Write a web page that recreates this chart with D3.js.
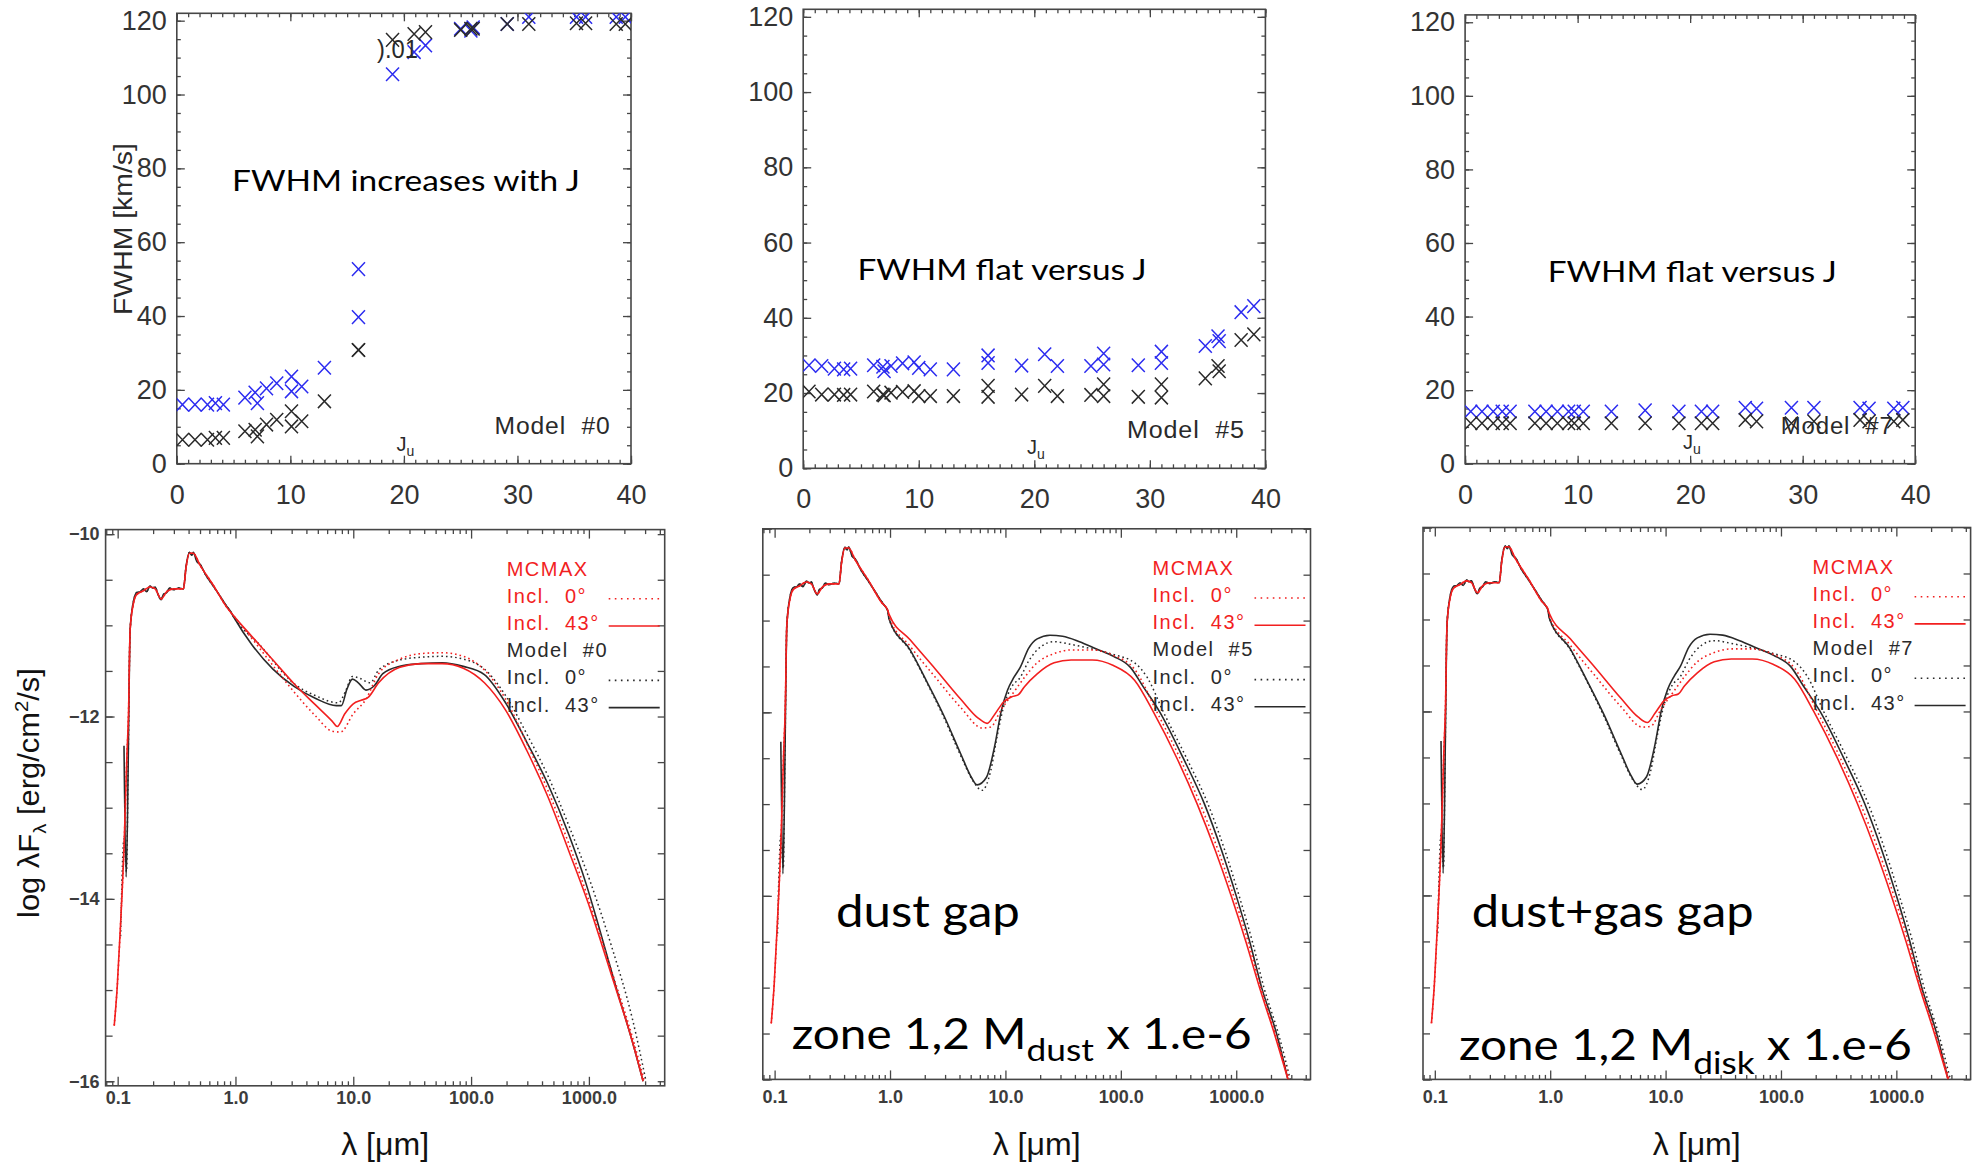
<!DOCTYPE html>
<html>
<head>
<meta charset="utf-8">
<script src="https://cdnjs.cloudflare.com/ajax/libs/d3/7.8.5/d3.min.js"></script>
<style>
  body { margin: 0; background: #fff; }
  svg { display: block; }
  text { white-space: pre; }
</style>
</head>
<body>
<script>
// ---- top row: FWHM (km/s) versus upper level J_u, blue = one set, black = other set ----
const jModel0 = [0.5, 1.6, 2.7, 3.4, 4.1, 6.0, 6.9, 7.1, 7.9, 8.8, 10.1, 10.1, 11.0, 13.0, 16.0, 16.0, 19.0, 20.9, 21.9, 25.0, 25.9, 26.1, 29.1, 31.0, 35.2, 36.0, 38.7, 39.5];
const fwhmBlue0 = [16.0, 16.0, 16.0, 16.4, 16.0, 17.9, 19.3, 16.4, 20.4, 21.8, 23.6, 19.6, 20.9, 26.0, 52.7, 39.7, 105.5, 111.5, 113.3, 117.8, 117.3, 118.2, 119.1, 121.0, 121.0, 121.0, 121.0, 121.0];
const fwhmBlack0 = [6.5, 6.5, 6.5, 7.0, 7.0, 8.8, 9.2, 7.4, 10.6, 11.9, 14.2, 10.1, 11.5, 16.9, 30.8, 30.8, 114.8, 116.4, 116.9, 117.5, 117.8, 117.8, 119.1, 119.1, 119.3, 119.3, 119.1, 119.1];

const jModel5 = [0.5, 1.6, 2.7, 3.5, 4.1, 6.1, 6.9, 7.0, 7.6, 8.6, 9.6, 10.0, 11.0, 13.0, 16.0, 16.0, 18.9, 20.9, 22.0, 24.9, 26.0, 26.0, 29.0, 31.0, 31.0, 34.8, 35.9, 36.0, 37.9, 39.0];
const fwhmBlue5 = [27.4, 27.2, 26.5, 26.3, 26.5, 27.4, 27.0, 25.8, 27.2, 27.9, 28.2, 26.7, 26.3, 26.3, 30.0, 28.0, 27.3, 30.3, 27.2, 27.2, 30.5, 27.6, 27.4, 31.0, 28.0, 32.5, 35.1, 33.8, 41.5, 43.1];
const fwhmBlack5 = [20.4, 19.6, 19.6, 19.5, 19.6, 20.4, 19.6, 19.4, 20.1, 20.3, 20.5, 19.2, 19.2, 19.2, 21.9, 19.0, 19.6, 21.9, 19.2, 19.5, 22.3, 19.2, 19.0, 22.3, 18.8, 23.9, 27.2, 25.8, 34.1, 35.6];

const jModel7 = [0.5, 1.5, 2.5, 3.3, 4.0, 6.2, 7.2, 8.2, 9.2, 9.7, 10.5, 13.0, 16.0, 19.0, 21.0, 22.0, 24.9, 25.9, 29.0, 31.0, 35.1, 35.9, 38.1, 38.9];
const fwhmBlue7 = [14.2, 14.2, 14.2, 14.2, 14.2, 14.2, 14.2, 14.2, 14.2, 14.2, 14.2, 14.2, 14.5, 14.2, 14.2, 14.2, 15.2, 15.0, 15.2, 15.2, 15.2, 15.0, 15.0, 15.2];
const fwhmBlack7 = [11.0, 11.0, 11.0, 11.0, 11.0, 11.0, 11.0, 11.0, 11.0, 11.0, 11.0, 11.0, 11.0, 11.0, 11.0, 11.0, 11.9, 11.5, 11.0, 11.5, 11.9, 11.5, 11.5, 11.9];

// ---- bottom row: SEDs, [lambda (micron), log lambda F_lambda (erg/cm2/s)] ----
const uvRed = [[0.0935, -15.39], [0.0991, -14.97], [0.1059, -14.27], [0.1132, -13.44], [0.1199, -12.42], [0.1236, -11.97], [0.1276, -11.05]];
const uvBlack = [[0.1132, -12.32], [0.1180, -13.76], [0.1219, -12.88], [0.1250, -11.72], [0.1276, -11.05]];
const uvBlackDot = [[0.1059, -14.41], [0.1132, -13.34], [0.1189, -13.70], [0.1230, -12.42], [0.1276, -11.05]];
const photosphere = [[0.1361, -10.76], [0.1455, -10.66], [0.1656, -10.62], [0.1884, -10.58], [0.2080, -10.60], [0.2339, -10.71], [0.2612, -10.63], [0.2972, -10.60], [0.3614, -10.60], [0.3811, -10.36], [0.4064, -10.21], [0.4385, -10.21], [0.5000, -10.34], [0.6486, -10.56], [0.8414, -10.80], [0.9572, -10.89]];
// the black model spectrum is noisier over the photosphere
const photosphereNoisy = [[0.1361, -10.74], [0.1455, -10.64], [0.1560, -10.63], [0.1656, -10.60], [0.1760, -10.63], [0.1884, -10.57], [0.1980, -10.59], [0.2080, -10.58], [0.2200, -10.66], [0.2339, -10.72], [0.2450, -10.66], [0.2612, -10.64], [0.2750, -10.59], [0.2972, -10.61], [0.3300, -10.59], [0.3614, -10.60], [0.3811, -10.35], [0.4064, -10.20], [0.4250, -10.23], [0.4385, -10.20], [0.4700, -10.30], [0.5000, -10.33], [0.5600, -10.45], [0.6486, -10.57], [0.7400, -10.68], [0.8414, -10.79], [0.9000, -10.84], [0.9572, -10.90]];

const sed0BlackSolid = [[1.374, -11.21], [2.080, -11.48], [3.141, -11.67], [4.753, -11.80], [7.178, -11.88], [7.925, -11.88], [8.831, -11.70], [9.840, -11.59], [11.04, -11.63], [12.82, -11.71], [15.14, -11.66], [17.82, -11.53], [24.83, -11.45], [37.58, -11.42], [56.75, -11.41], [85.90, -11.45], [129.7, -11.54], [196.3, -11.85], [296.5, -12.28], [448.7, -12.74], [677.6, -13.30], [944, -13.83], [1211, -14.30], [1683, -14.95], [2344, -15.57], [2884, -16.00]];
const sed0BlackDot = [[1.622, -11.22], [3.141, -11.64], [4.753, -11.77], [7.482, -11.85], [8.610, -11.72], [9.840, -11.56], [11.32, -11.58], [13.93, -11.63], [16.41, -11.49], [24.83, -11.38], [37.58, -11.35], [56.75, -11.34], [85.90, -11.37], [129.7, -11.48], [196.3, -11.77], [296.5, -12.19], [448.7, -12.65], [677.6, -13.20], [1026, -13.81], [1549, -14.51], [2344, -15.32], [3055, -16.00]];
const sed0RedSolid = [[1.374, -11.12], [2.080, -11.38], [3.141, -11.64], [4.753, -11.87], [6.607, -12.05], [7.311, -12.11], [8.472, -11.97], [10.0, -11.86], [11.80, -11.82], [13.37, -11.79], [16.41, -11.63], [24.83, -11.46], [37.58, -11.42], [56.75, -11.42], [85.90, -11.47], [129.7, -11.63], [196.3, -11.93], [296.5, -12.37], [448.7, -12.88], [677.6, -13.48], [1026, -14.11], [1549, -14.83], [2344, -15.57], [2884, -16.00]];
const sed0RedDot = [[1.622, -11.26], [2.259, -11.50], [3.141, -11.73], [4.753, -11.99], [6.607, -12.16], [7.798, -12.17], [10.0, -11.97], [12.82, -11.81], [16.41, -11.53], [24.83, -11.37], [37.58, -11.31], [56.75, -11.30], [85.90, -11.34], [129.7, -11.49], [196.3, -11.81], [296.5, -12.29], [448.7, -12.81], [677.6, -13.40], [1026, -14.06], [1549, -14.78], [2344, -15.52], [2958, -16.00]];

// gap models (#5 dust gap, #7 dust+gas gap look the same in the picture)
const sedGapBlackSolid = [[0.979, -10.98], [1.493, -11.32], [2.094, -11.67], [2.938, -12.04], [4.121, -12.46], [5.082, -12.71], [5.675, -12.79], [6.839, -12.71], [8.091, -12.36], [9.183, -11.99], [10.42, -11.76], [11.83, -11.62], [13.43, -11.51], [15.92, -11.30], [18.84, -11.20], [24.27, -11.16], [31.26, -11.17], [43.85, -11.23], [61.52, -11.31], [86.30, -11.39], [121.1, -11.51], [156.0, -11.72], [218.3, -12.00], [347.5, -12.50], [530.9, -13.00], [744.7, -13.50], [1000, -14.00], [1309, -14.50], [1660, -15.00], [2234, -15.50], [2805, -16.00]];
const sedGapBlackDot = [[0.979, -10.98], [1.493, -11.33], [2.094, -11.68], [2.938, -12.06], [4.121, -12.48], [5.248, -12.75], [6.281, -12.85], [7.447, -12.64], [8.453, -12.27], [9.594, -11.95], [11.35, -11.72], [13.43, -11.62], [15.92, -11.44], [20.51, -11.28], [26.42, -11.23], [37.07, -11.26], [56.49, -11.31], [86.30, -11.37], [131.5, -11.46], [169.4, -11.62], [234.4, -12.00], [371.5, -12.50], [568.9, -13.00], [794.3, -13.50], [1059, -14.00], [1380, -14.50], [1738, -15.00], [2317, -15.50], [2938, -16.00]];
const sedGapRedSolid = [[0.979, -10.93], [1.493, -11.21], [2.477, -11.53], [4.121, -11.86], [5.768, -12.06], [6.950, -12.12], [8.091, -12.02], [9.594, -11.89], [11.35, -11.83], [12.88, -11.81], [14.62, -11.72], [18.84, -11.58], [26.42, -11.46], [37.07, -11.43], [56.49, -11.43], [86.30, -11.49], [131.5, -11.65], [192.3, -12.00], [306.2, -12.50], [459.2, -13.00], [656.1, -13.50], [903.6, -14.00], [1213, -14.50], [1592, -15.00], [2138, -15.50], [2805, -16.00]];
const sedGapRedDot = [[0.979, -10.96], [1.493, -11.28], [2.477, -11.62], [4.121, -11.95], [6.281, -12.17], [7.447, -12.16], [9.183, -11.97], [11.35, -11.81], [14.62, -11.62], [18.84, -11.46], [26.42, -11.36], [37.07, -11.32], [56.49, -11.32], [86.30, -11.38], [131.5, -11.53], [206.1, -12.00], [325.1, -12.50], [487.5, -13.00], [695.0, -13.50], [950.6, -14.00], [1268, -14.50], [1633, -15.00], [2178, -15.50], [2877, -16.00]];

const legendRows = ["MCMAX", "Incl.  0°", "Incl.  43°", "Model  #", "Incl.  0°", "Incl.  43°"];

const IDL = "'Liberation Sans', Arial, sans-serif";
const NOTE = "Lato, 'Open Sans', sans-serif";
const BLUE = "#2c2cf0", RED = "#f21f1f", INK = "#2a2a2a", AXIS = "#464646";

const svg = d3.select("body").append("svg")
  .attr("width", 1979)
  .attr("height", 1164)
  .style("background", "#fff");

// squeeze/stretch a left-anchored text to a measured width
function stretch (t, x0, w) {
  const len = t.node().getComputedTextLength();
  if (len > 0) {
    t.attr("transform", "translate(" + x0 + ",0) scale(" + (w / len) + ",1) translate(" + (-x0) + ",0)");
  }
}

function axisLayer (g, gen, transform) {
  const a = g.append("g").attr("transform", transform).call(gen);
  a.select(".domain").remove();
  a.selectAll("line").attr("stroke", AXIS).attr("stroke-width", 1.3);
  return a;
}

let clipCount = 0;
function clipTo (g, L, T, R, B) {
  const id = "clip" + (clipCount++);
  g.append("clipPath").attr("id", id)
    .append("rect").attr("x", L).attr("y", T).attr("width", R - L).attr("height", B - T);
  return g.append("g").attr("clip-path", "url(#" + id + ")");
}

function fwhmPanel (p) {
  const [L, T, R, B] = p.frame;
  const x = d3.scaleLinear().domain([0, 40]).range([L, R]);
  const y = d3.scaleLinear().domain([0, 122]).range([B, T]);
  const g = svg.append("g");

  const minorX = d3.range(0, 41, 1), minorY = d3.range(0, 121, 5);
  const majorX = d3.range(0, 41, 10), majorY = d3.range(0, 121, 20);

  axisLayer(g, d3.axisBottom(x).tickValues(minorX).tickSize(-4).tickFormat(""), "translate(0," + B + ")");
  axisLayer(g, d3.axisTop(x).tickValues(minorX).tickSize(-4).tickFormat(""), "translate(0," + T + ")");
  axisLayer(g, d3.axisLeft(y).tickValues(minorY).tickSize(-4).tickFormat(""), "translate(" + L + ",0)");
  axisLayer(g, d3.axisRight(y).tickValues(minorY).tickSize(-4).tickFormat(""), "translate(" + R + ",0)");
  const xa = axisLayer(g, d3.axisBottom(x).tickValues(majorX).tickSize(-8).tickPadding(21).tickFormat(d3.format("d")), "translate(0," + B + ")");
  axisLayer(g, d3.axisTop(x).tickValues(majorX).tickSize(-8).tickFormat(""), "translate(0," + T + ")");
  const ya = axisLayer(g, d3.axisLeft(y).tickValues(majorY).tickSize(-8).tickPadding(10).tickFormat(d3.format("d")), "translate(" + L + ",0)");
  axisLayer(g, d3.axisRight(y).tickValues(majorY).tickSize(-8).tickFormat(""), "translate(" + R + ",0)");
  [xa, ya].forEach(function (a) {
    a.selectAll("text").attr("font-family", IDL).attr("font-size", 27).attr("fill", "#333");
  });

  g.append("rect")
    .attr("x", L).attr("y", T).attr("width", R - L).attr("height", B - T)
    .attr("fill", "none").attr("stroke", AXIS).attr("stroke-width", 1.6);

  // annotation in the middle of the panel
  const note = g.append("text")
    .attr("x", p.note.x).attr("y", p.note.y)
    .attr("font-family", NOTE).attr("font-size", 28).attr("fill", "#000")
    .text(p.note.text);
  stretch(note, p.note.x, p.note.w);

  const model = g.append("text")
    .attr("x", p.model.x).attr("y", p.model.y)
    .attr("font-family", IDL).attr("font-size", 23).attr("fill", INK)
    .attr("letter-spacing", 0.8)
    .text(p.model.text);
  stretch(model, p.model.x, p.model.w);

  const ju = g.append("text")
    .attr("x", p.ju[0]).attr("y", p.ju[1])
    .attr("font-family", IDL).attr("font-size", 20).attr("fill", INK)
    .text("J");
  ju.append("tspan").attr("font-size", 14).attr("dy", 5).text("u");

  const cross = "M-6.5,-6.8L6.5,6.8M-6.5,6.8L6.5,-6.8";
  const marks = clipTo(g, L, T, R, B);
  marks.selectAll("path.blue")
    .data(d3.zip(p.j, p.blue))
    .join("path")
    .attr("class", "blue")
    .attr("d", cross)
    .attr("transform", function (d) { return "translate(" + x(d[0]) + "," + y(d[1]) + ")"; })
    .attr("stroke", BLUE).attr("stroke-width", 1.5).attr("fill", "none");
  marks.selectAll("path.black")
    .data(d3.zip(p.j, p.black))
    .join("path")
    .attr("class", "black")
    .attr("d", cross)
    .attr("transform", function (d) { return "translate(" + x(d[0]) + "," + y(d[1]) + ")"; })
    .attr("stroke", INK).attr("stroke-width", 1.5).attr("fill", "none");
  return g;
}

function sedPanel (p) {
  const [L, T, R, B] = p.frame;
  const x = d3.scaleLog().domain([0.079, 4400]).range([L, R]);
  const y = d3.scaleLinear().domain(p.ydom).range([B, T]);
  const g = svg.append("g");

  const majorX = [0.1, 1, 10, 100, 1000];
  const minorX = [];
  [0.01, 0.1, 1, 10, 100, 1000].forEach(function (d) {
    for (let m = 2; m <= 9; m++) {
      if (d * m >= 0.079 && d * m <= 4400) minorX.push(d * m);
    }
  });
  const minorY = d3.range(-16, -9.9, 0.5);
  const majorY = [-16, -14, -12, -10];

  axisLayer(g, d3.axisBottom(x).tickValues(minorX).tickSize(-4.5).tickFormat(""), "translate(0," + B + ")");
  axisLayer(g, d3.axisTop(x).tickValues(minorX).tickSize(-4.5).tickFormat(""), "translate(0," + T + ")");
  const xa = axisLayer(g, d3.axisBottom(x).tickValues(majorX).tickSize(-9).tickPadding(p.labelPad).tickFormat(d3.format(".1f")), "translate(0," + B + ")");
  axisLayer(g, d3.axisTop(x).tickValues(majorX).tickSize(-9).tickFormat(""), "translate(0," + T + ")");
  axisLayer(g, d3.axisLeft(y).tickValues(minorY).tickSize(-7).tickFormat(""), "translate(" + L + ",0)");
  axisLayer(g, d3.axisRight(y).tickValues(minorY).tickSize(-7).tickFormat(""), "translate(" + R + ",0)");
  const ya = axisLayer(g, d3.axisLeft(y).tickValues(majorY).tickSize(-9).tickPadding(6)
    .tickFormat(p.yLabels ? d3.format("d") : ""), "translate(" + L + ",0)");
  [xa, ya].forEach(function (a) {
    a.selectAll("text").attr("font-family", IDL).attr("font-size", 18)
      .attr("font-weight", "bold").attr("fill", "#3c3c3c");
  });

  g.append("rect")
    .attr("x", L).attr("y", T).attr("width", R - L).attr("height", B - T)
    .attr("fill", "none").attr("stroke", AXIS).attr("stroke-width", 1.6);

  const line = d3.line()
    .x(function (d) { return x(d[0]); })
    .y(function (d) { return y(d[1]); })
    .curve(d3.curveMonotoneX);

  const plot = clipTo(g, L, T, R, B);
  const curves = [
    { data: uvBlackDot.concat(photosphereNoisy, p.blackDot), color: INK, dash: "1.6,3", w: 1.5 },
    { data: uvBlack.concat(photosphereNoisy, p.blackSolid), color: INK, dash: null, w: 1.6 },
    { data: uvRed.concat(photosphere, p.redDot), color: RED, dash: "1.6,3", w: 1.6 },
    { data: uvRed.concat(photosphere, p.redSolid), color: RED, dash: null, w: 1.6 }
  ];
  plot.selectAll("path.sed")
    .data(curves)
    .join("path")
    .attr("class", "sed")
    .attr("d", function (d) { return line(d.data); })
    .attr("fill", "none")
    .attr("stroke", function (d) { return d.color; })
    .attr("stroke-width", function (d) { return d.w; })
    .attr("stroke-dasharray", function (d) { return d.dash; });

  // legend, IDL style, top right inside the frame
  const legend = g.append("g");
  const lx = R - 158;
  legendRows.forEach(function (row, i) {
    const by = T + 46 + i * 27.2;
    const col = i < 3 ? RED : INK;
    legend.append("text")
      .attr("x", lx).attr("y", by)
      .attr("font-family", IDL).attr("font-size", 20).attr("letter-spacing", 1.5)
      .attr("fill", col)
      .text(i === 3 ? row + p.modelId : row);
    if (i === 1 || i === 2 || i === 4 || i === 5) {
      legend.append("line")
        .attr("x1", R - 56).attr("x2", R - 5)
        .attr("y1", by - 4).attr("y2", by - 4)
        .attr("stroke", col).attr("stroke-width", 1.6)
        .attr("stroke-dasharray", i === 1 || i === 4 ? "1.6,4.5" : null);
    }
  });

  // x axis title
  const cx = (L + R) / 2;
  const xt = g.append("text")
    .attr("x", cx - 44).attr("y", 1155)
    .attr("font-family", IDL).attr("font-size", 31).attr("fill", "#111")
    .text("λ [μm]");
  stretch(xt, cx - 44, 88);

  if (p.notes) {
    p.notes.forEach(function (n) {
      const t = g.append("text")
        .attr("x", n.x).attr("y", n.y)
        .attr("font-family", NOTE).attr("font-size", n.size).attr("fill", "#000");
      t.append("tspan").text(n.parts[0]);
      if (n.parts.length > 1) {
        t.append("tspan").attr("font-size", n.size * 0.74).attr("dy", n.sub).text(n.parts[1]);
        t.append("tspan").attr("dy", -n.sub).text(n.parts[2]);
      }
      stretch(t, n.x, n.w);
    });
  }
  return g;
}

fwhmPanel({
  frame: [176.8, 13.3, 631, 463.7],
  j: jModel0, blue: fwhmBlue0, black: fwhmBlack0,
  note: { text: "FWHM increases with J", x: 232, y: 191.5, w: 348 },
  model: { text: "Model  #0", x: 494.6, y: 434.5, w: 116 },
  ju: [396.4, 451]
});
fwhmPanel({
  frame: [803.2, 9.3, 1265.4, 468.3],
  j: jModel5, blue: fwhmBlue5, black: fwhmBlack5,
  note: { text: "FWHM flat versus J", x: 857.5, y: 280.3, w: 289 },
  model: { text: "Model  #5", x: 1127, y: 438.5, w: 118 },
  ju: [1027, 454.4]
});
fwhmPanel({
  frame: [1465.1, 14.9, 1915.2, 463.7],
  j: jModel7, blue: fwhmBlue7, black: fwhmBlack7,
  note: { text: "FWHM flat versus J", x: 1547.8, y: 282, w: 289 },
  model: { text: "Model  #7", x: 1780.7, y: 433.8, w: 113 },
  ju: [1683, 449.4]
});

// leftover label fragment sitting in the first panel
const frag = svg.append("text")
  .attr("x", 377).attr("y", 58)
  .attr("font-family", IDL).attr("font-size", 25).attr("fill", INK)
  .text(").01");
stretch(frag, 377, 41);

// FWHM axis title
const fyg = svg.append("g").attr("transform", "translate(131.5,229) rotate(-90)");
const fyt = fyg.append("text")
  .attr("x", -86).attr("y", 0)
  .attr("font-family", IDL).attr("font-size", 26).attr("fill", INK)
  .text("FWHM [km/s]");
stretch(fyt, -86, 172);

sedPanel({
  frame: [105.6, 529.6, 664.7, 1085.8], ydom: [-16.05, -9.95], yLabels: true, modelId: "0", labelPad: 5,
  blackSolid: sed0BlackSolid, blackDot: sed0BlackDot, redSolid: sed0RedSolid, redDot: sed0RedDot
});
sedPanel({
  frame: [762.8, 528.8, 1310.5, 1079.4], ydom: [-16, -10], yLabels: false, modelId: "5", labelPad: 11,
  blackSolid: sedGapBlackSolid, blackDot: sedGapBlackDot, redSolid: sedGapRedSolid, redDot: sedGapRedDot,
  notes: [
    { parts: ["dust gap"], x: 836, y: 927, size: 45, w: 184 },
    { parts: ["zone 1,2 M", "dust", " x 1.e-6"], x: 791.7, y: 1049.3, size: 42, sub: 12, w: 460 }
  ]
});
sedPanel({
  frame: [1423, 527.5, 1970.6, 1079.4], ydom: [-16, -10], yLabels: false, modelId: "7", labelPad: 11,
  blackSolid: sedGapBlackSolid, blackDot: sedGapBlackDot, redSolid: sedGapRedSolid, redDot: sedGapRedDot,
  notes: [
    { parts: ["dust+gas gap"], x: 1471.7, y: 927, size: 45, w: 282 },
    { parts: ["zone 1,2 M", "disk", " x 1.e-6"], x: 1459, y: 1060, size: 42, sub: 14, w: 453 }
  ]
});

// SED axis title
const syg = svg.append("g").attr("transform", "translate(38.5,793) rotate(-90)");
const syt = syg.append("text")
  .attr("x", -125).attr("y", 0)
  .attr("font-family", IDL).attr("font-size", 29).attr("fill", "#111");
syt.append("tspan").text("log λF");
syt.append("tspan").attr("font-size", 19).attr("dy", 7).text("λ");
syt.append("tspan").attr("dy", -7).text(" [erg/cm");
syt.append("tspan").attr("font-size", 19).attr("dy", -11).text("2");
syt.append("tspan").attr("dy", 11).text("/s]");
stretch(syt, -125, 250);
</script>
</body>
</html>
